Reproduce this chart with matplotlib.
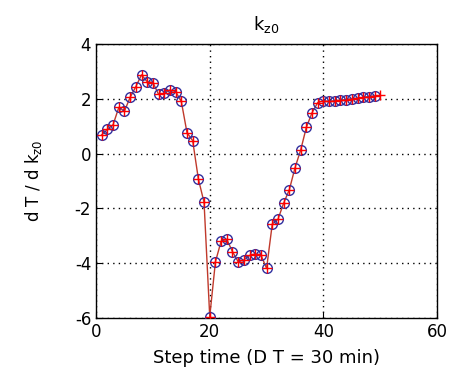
import matplotlib
matplotlib.use("Agg")
import matplotlib.pyplot as plt

plt.rcParams['axes.unicode_minus'] = False

steps = list(range(1, 51))
sens = [0.68, 0.88, 1.05, 1.68, 1.55, 2.05, 2.44, 2.87, 2.62, 2.59,
        2.16, 2.20, 2.32, 2.26, 1.90, 0.76, 0.47, -0.93, -1.78, -5.95,
        -3.95, -3.20, -3.13, -3.58, -3.95, -3.88, -3.72, -3.66, -3.70, -4.19,
        -2.57, -2.40, -1.81, -1.32, -0.52, 0.13, 0.96, 1.49, 1.86, 1.92,
        1.90, 1.93, 1.95, 1.97, 2.00, 2.02, 2.05, 2.08, 2.10, 2.12]

xticks = [0, 20, 40, 60]
yticks = [-6, -4, -2, 0, 2, 4]

fig = plt.figure(figsize=(4.53, 3.75), dpi=100)
ax = fig.add_axes([0.212, 0.152, 0.753, 0.731])

ax.plot(steps, sens, color='#c0392b', lw=1.0, zorder=2)
ax.plot(steps[:-1], sens[:-1], 'o', mfc='none', mec='#3030a0', ms=7, mew=1.0, zorder=3)
ax.plot(steps, sens, '+', color='red', ms=7, mew=1.0, zorder=4)

ax.set_xlim(0, 60)
ax.set_ylim(-6, 4)
ax.set_xticks(xticks)
ax.set_yticks(yticks)
ax.grid(True, color='black', linestyle=(0, (1, 3)), linewidth=1.0)
ax.tick_params(direction='in', labelsize=12, length=4, color='black')
for s in ax.spines.values():
    s.set_linewidth(1.0)

ax.set_xlabel('Step time (D T = 30 min)', fontsize=13, labelpad=6)
ax.set_ylabel('d T / d k$_{\\mathregular{z0}}$', fontsize=12, labelpad=22)
ax.set_title('k$_{\\mathregular{z0}}$', fontsize=13, pad=10)

fig.savefig('out.png', dpi=100)
